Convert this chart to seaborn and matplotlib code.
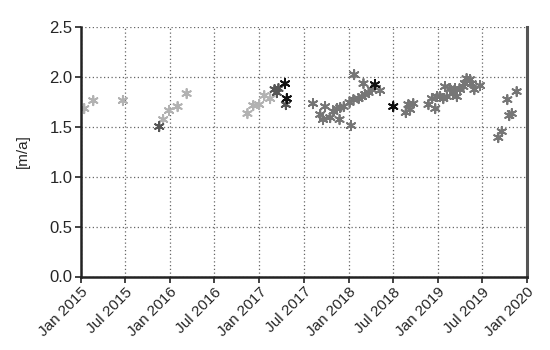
import numpy as np
import pandas as pd
import matplotlib
matplotlib.use("Agg")
import matplotlib.pyplot as plt
import matplotlib.dates as mdates
import seaborn as sns

# --- data ---
light_dates = ["2015-01-15", "2015-02-21", "2015-06-22", "2015-12-04", "2015-12-28",
               "2016-02-01", "2016-03-09", "2016-11-13", "2016-12-07", "2016-12-31",
               "2017-01-21", "2017-02-14"]
light_vals = [1.68, 1.76, 1.76, 1.57, 1.66, 1.70, 1.83, 1.63, 1.71, 1.72, 1.81, 1.78]

dark_dates = ["2015-11-18", "2017-03-04", "2017-03-13", "2017-03-20", "2017-04-19"]
dark_vals = [1.50, 1.87, 1.84, 1.88, 1.72]

black_dates = ["2017-04-16", "2017-04-23", "2018-04-19", "2018-07-03"]
black_vals = [1.93, 1.78, 1.92, 1.70]

mid_dates = ["2017-08-08", "2017-09-07", "2017-09-18", "2017-09-27", "2017-10-18",
             "2017-10-31", "2017-11-14", "2017-11-25", "2017-11-28", "2017-12-12",
             "2018-01-05", "2018-01-11", "2018-01-21", "2018-01-24", "2018-02-11",
             "2018-02-25", "2018-03-03", "2018-03-10", "2018-03-24", "2018-04-06",
             "2018-05-10", "2018-08-23", "2018-09-03", "2018-09-10", "2018-09-23",
             "2018-11-24", "2018-12-08", "2018-12-22", "2018-12-29", "2019-01-11",
             "2019-01-24", "2019-01-31", "2019-02-07", "2019-02-21", "2019-03-06",
             "2019-03-13", "2019-03-20", "2019-04-02", "2019-04-16", "2019-04-22",
             "2019-04-29", "2019-05-13", "2019-05-20", "2019-05-31", "2019-06-23",
             "2019-09-06", "2019-09-20", "2019-10-13", "2019-10-21", "2019-10-31",
             "2019-11-20"]
mid_vals = [1.73, 1.62, 1.57, 1.70, 1.59,
            1.65, 1.68, 1.57, 1.69, 1.70,
            1.74, 1.51, 1.77, 2.02, 1.78,
            1.80, 1.93, 1.82, 1.84, 1.87,
            1.86, 1.64, 1.72, 1.67, 1.73,
            1.72, 1.78, 1.68, 1.80, 1.80,
            1.78, 1.90, 1.80, 1.88, 1.83,
            1.88, 1.80, 1.87, 1.90, 1.93,
            1.98, 1.97, 1.93, 1.87, 1.91,
            1.39, 1.45, 1.77, 1.61, 1.63,
            1.85]

tick_labels = ["Jan 2015", "Jul 2015", "Jan 2016", "Jul 2016", "Jan 2017", "Jul 2017",
               "Jan 2018", "Jul 2018", "Jan 2019", "Jul 2019", "Jan 2020"]
tick_dates = ["2015-01-01", "2015-07-01", "2016-01-01", "2016-07-01", "2017-01-01",
              "2017-07-01", "2018-01-01", "2018-07-01", "2019-01-01", "2019-07-01",
              "2020-01-01"]

frames = []
for name, d, v in [("light", light_dates, light_vals), ("mid", mid_dates, mid_vals),
                   ("dark", dark_dates, dark_vals), ("black", black_dates, black_vals)]:
    frames.append(pd.DataFrame({"date": pd.to_datetime(d), "v": v, "grp": name}))
df = pd.concat(frames, ignore_index=True)

palette = {"light": "#b2b2b2", "mid": "#767676", "dark": "#555555", "black": "#111111"}

sns.set_theme(style="ticks")
plt.rcParams['font.family'] = ['Liberation Sans', 'DejaVu Sans']

fig = plt.figure(figsize=(5.5, 3.5), dpi=100)
ax = fig.add_axes([0.147, 0.21, 0.811, 0.714])

sns.scatterplot(data=df, x="date", y="v", hue="grp", palette=palette,
                marker=(6, 2, 0), s=45, linewidth=1.3, edgecolor=None,
                legend=False, ax=ax)
# edge colour follows face colour for the asterisk
for coll in ax.collections:
    coll.set_edgecolor(coll.get_facecolor())

ticks = pd.to_datetime(tick_dates)
ax.set_xlim(ticks[0], ticks[-1])
ax.set_ylim(0, 2.5)
ax.set_xticks(ticks)
ax.set_xticklabels(tick_labels, rotation=45, ha="right", rotation_mode="anchor",
                   fontsize=11)
ax.set_yticks(np.arange(0, 2.51, 0.5))
ax.set_yticklabels([f"{t:.1f}" for t in np.arange(0, 2.51, 0.5)], fontsize=12)
ax.set_xlabel("")
ax.set_ylabel("[m/a]", fontsize=11, labelpad=14)

ax.grid(True, linestyle=(0, (1, 2)), color="#666666", linewidth=0.9)
ax.spines["top"].set_visible(False)
for s in ["left", "bottom"]:
    ax.spines[s].set_linewidth(1.8)
    ax.spines[s].set_color("#222222")
ax.spines["right"].set_linewidth(2.2)
ax.spines["right"].set_color("#555555")
ax.tick_params(axis="both", length=4, width=1.2, color="#222222", pad=2)

fig.savefig("out.png", dpi=100)
